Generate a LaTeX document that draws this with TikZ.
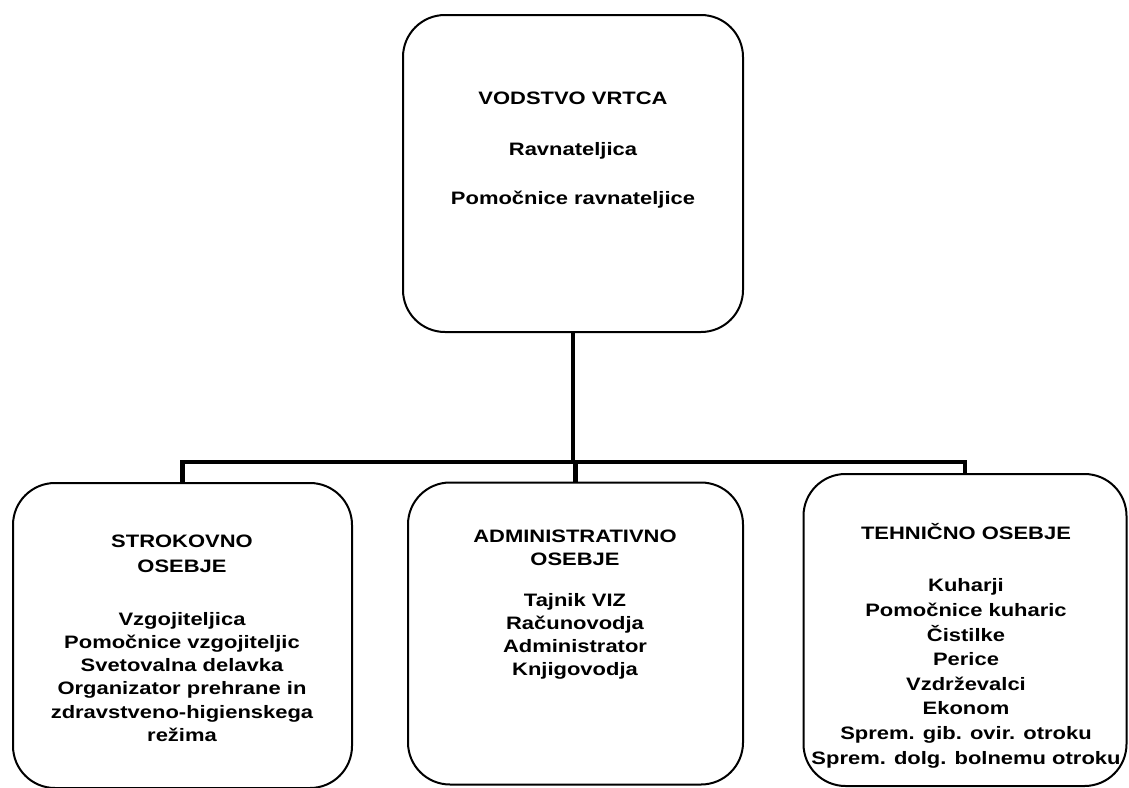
\documentclass[tikz,border=0pt]{standalone}
\usepackage{fontspec}
\newfontfamily\chartfont{Liberation Sans}[FakeStretch=1.22]
\begin{document}
\begin{tikzpicture}[x=1pt,y=-1pt,
  box/.style={draw=black,line width=2pt,rounded corners=42pt,inner sep=0pt},
  conn/.style={draw=black,line width=4.5pt},
  lbl/.style={font=\chartfont\bfseries\fontsize{18}{19.5}\selectfont,align=center,inner sep=0pt,anchor=base},
  list/.style={lbl,font=\chartfont\bfseries\fontsize{18}{#1}\selectfont}]
\useasboundingbox (0,0) rectangle (1129,787);
% boxes
\node[box,minimum width=340pt,minimum height=317pt] (top) at (573,173.5) {};
\node[box,minimum width=339pt,minimum height=305pt] (left) at (182.5,635.5) {};
\node[box,minimum width=335pt,minimum height=302pt] (mid) at (575.5,633.5) {};
\node[box,minimum width=323pt,minimum height=312pt] (right) at (965,630) {};
% connectors
\coordinate (bus) at (573,462);
\draw[conn] (top.south) -- (top.south |- bus);
\draw[conn] (left.north) |- (right.north |- bus) -- (right.north);
\draw[conn] (mid.north |- bus) -- (mid.north);
% texts (base anchor = baseline of the last line)
\node[lbl] (t1) at (573,104) {VODSTVO VRTCA};
\node[lbl] (t2) at (573,155) {Ravnateljica};
\node[lbl] (t3) at (573,204) {Pomočnice ravnateljice};
\node[list=25] (l1) at (182,572) {STROKOVNO\\OSEBJE};
\node[list=23.3] (l2) at (182,741.5) {Vzgojiteljica\\Pomočnice vzgojiteljic\\Svetovalna delavka\\Organizator prehrane in\\zdravstveno-higienskega\\režima};
\node[list=23] (m1) at (575,565) {ADMINISTRATIVNO\\OSEBJE};
\node[list=22.7] (m2) at (575,675) {Tajnik VIZ\\Računovodja\\Administrator\\Knjigovodja};
\node[lbl] (r1) at (966,539) {TEHNIČNO OSEBJE};
\node[list=24.6] (r2) at (966,764) {Kuharji\\Pomočnice kuharic\\Čistilke\\Perice\\Vzdrževalci\\Ekonom\\Sprem. gib. ovir. otroku\\Sprem. dolg. bolnemu otroku};
\end{tikzpicture}
\end{document}
